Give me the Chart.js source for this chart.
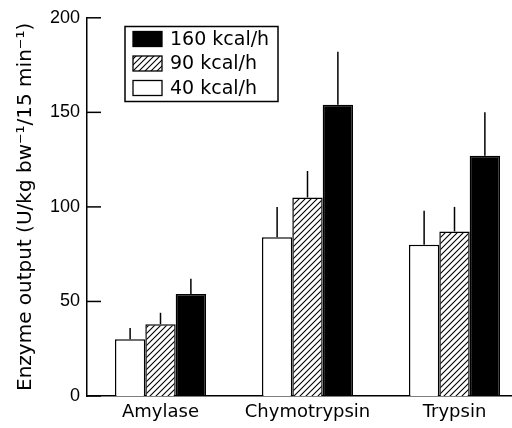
<!DOCTYPE html>
<html>
<head>
<meta charset="utf-8">
<script src="https://cdn.jsdelivr.net/npm/chart.js@4/dist/chart.umd.min.js"></script>
<style>
  html, body { margin: 0; padding: 0; background: #fff; }
  #wrap { width: 512px; height: 428px; overflow: hidden; }
</style>
</head>
<body>
<div id="wrap"><canvas id="chart" width="528" height="428" style="width:528px;height:428px"></canvas></div>
<script>
// valeurs
const categories = ['Amylase', 'Chymotrypsin', 'Trypsin'];
const seriesLabels = ['40 kcal/h', '90 kcal/h', '160 kcal/h'];
const mean40 = [30, 84, 80];
const err40 = [6, 16, 18];
const mean90 = [38, 105, 87];
const err90 = [6, 14, 13];
const mean160 = [54, 154, 127];
const err160 = [8, 28, 23];
const yTicks = [0, 50, 100, 150, 200];

const WORD_FONT = 'DejaVu Sans';
const NUM_FONT = 'Liberation Sans';

function makeHatch() {
  const c = document.createElement('canvas');
  c.width = 6; c.height = 6;
  const g = c.getContext('2d');
  g.fillStyle = '#fff';
  g.fillRect(0, 0, 6, 6);
  g.strokeStyle = '#000';
  g.lineWidth = 1.1;
  g.beginPath();
  g.moveTo(0, 6); g.lineTo(6, 0);
  g.moveTo(-1, 1); g.lineTo(1, -1);
  g.moveTo(5, 7); g.lineTo(7, 5);
  g.stroke();
  return g.createPattern(c, 'repeat');
}
const hatch = makeHatch();

const fills = ['#ffffff', hatch, '#000000'];
const means = [mean40, mean90, mean160];
const errs = [err40, err90, err160];

// barres d'erreur (vers le haut seulement)
const errorBars = {
  id: 'errorBars',
  afterDatasetsDraw(chart) {
    const ctx = chart.ctx;
    const y = chart.scales.y;
    ctx.save();
    ctx.strokeStyle = '#000';
    ctx.lineWidth = 1.5;
    chart.data.datasets.forEach((ds, i) => {
      const meta = chart.getDatasetMeta(i);
      meta.data.forEach((bar, j) => {
        const top = y.getPixelForValue(ds.data[j] + ds.errors[j]);
        ctx.beginPath();
        ctx.moveTo(bar.x, bar.y);
        ctx.lineTo(bar.x, top);
        ctx.stroke();
      });
    });
    ctx.restore();
  }
};

// graduations vers l'intérieur
const innerTicks = {
  id: 'innerTicks',
  afterDraw(chart) {
    const ctx = chart.ctx;
    const y = chart.scales.y;
    const left = chart.chartArea.left;
    ctx.save();
    ctx.strokeStyle = '#000';
    ctx.lineWidth = 1.5;
    yTicks.forEach(v => {
      const py = y.getPixelForValue(v);
      ctx.beginPath();
      ctx.moveTo(left, py);
      ctx.lineTo(left + 14, py);
      ctx.stroke();
    });
    ctx.restore();
  }
};

// légende encadrée
const boxLegend = {
  id: 'boxLegend',
  afterDraw(chart) {
    const ctx = chart.ctx;
    ctx.save();
    ctx.strokeStyle = '#000';
    ctx.lineWidth = 1.5;
    ctx.strokeRect(125, 26.5, 153, 75);
    ctx.font = '19px "' + WORD_FONT + '"';
    ctx.fillStyle = '#000';
    ctx.textBaseline = 'middle';
    const items = chart.data.datasets.slice().reverse();
    items.forEach((ds, k) => {
      const cy = 39 + k * 24.5;
      ctx.fillStyle = ds.backgroundColor;
      ctx.fillRect(133, cy - 7.5, 29, 15);
      ctx.lineWidth = 1.3;
      ctx.strokeRect(133, cy - 7.5, 29, 15);
      ctx.fillStyle = '#000';
      ctx.fillText(ds.label, 170, cy + 1);
    });
    ctx.restore();
  }
};

new Chart(document.getElementById('chart'), {
  type: 'bar',
  data: {
    labels: categories,
    datasets: seriesLabels.map((label, i) => ({
      label: label,
      data: means[i],
      errors: errs[i],
      backgroundColor: fills[i],
      borderColor: '#000',
      borderWidth: 1.5,
      categoryPercentage: 0.62,
      barPercentage: 1.0
    }))
  },
  options: {
    responsive: false,
    animation: false,
    devicePixelRatio: 1,
    layout: { padding: { left: 10, top: 13, right: 0, bottom: 0 } },
    plugins: {
      legend: { display: false },
      tooltip: { enabled: false }
    },
    scales: {
      x: {
        grid: { display: false, drawTicks: false },
        border: { display: true, color: '#000', width: 1.5 },
        ticks: { color: '#000', padding: 6, font: { family: WORD_FONT, size: 18 } },
        afterFit(scale) { scale.height = 32; }
      },
      y: {
        min: 0,
        max: 200,
        afterBuildTicks(scale) { scale.ticks = yTicks.map(v => ({ value: v })); },
        grid: { display: false, drawTicks: false },
        border: { display: true, color: '#000', width: 1.5 },
        ticks: { color: '#000', padding: 7, font: { family: NUM_FONT, size: 18 } },
        title: {
          display: true,
          text: 'Enzyme output (U/kg bw\u207B\u00B9/15 min\u207B\u00B9)',
          color: '#000',
          font: { family: WORD_FONT, size: 20 },
          padding: { top: 4, bottom: 4 }
        },
        afterFit(scale) { scale.width = 77; }
      }
    }
  },
  plugins: [errorBars, innerTicks, boxLegend]
});
</script>
</body>
</html>
